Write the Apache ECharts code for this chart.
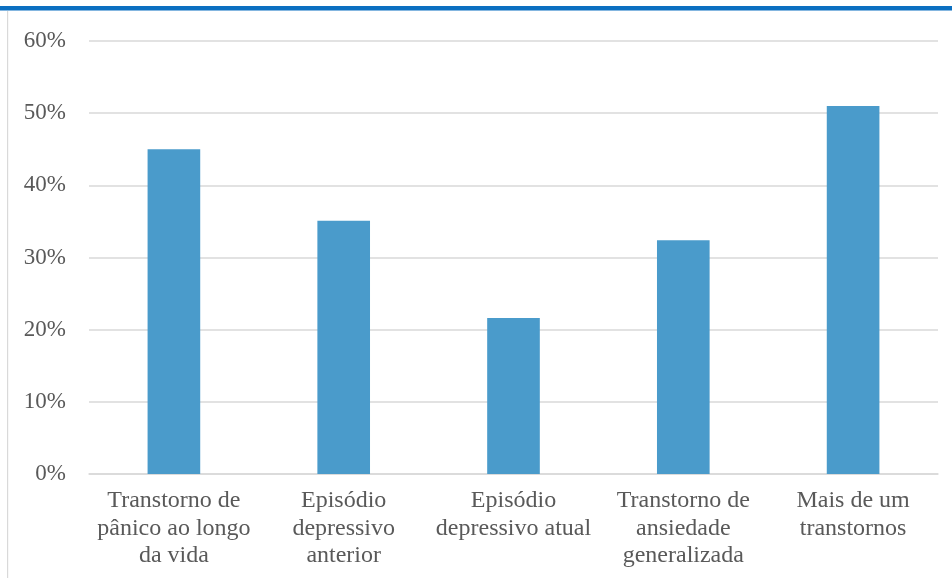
<!DOCTYPE html>
<html>
<head>
<meta charset="utf-8">
<script src="https://cdn.jsdelivr.net/npm/echarts@6/dist/echarts.min.js"></script>
<style>html,body{margin:0;padding:0;background:#fff;}#c{width:952px;height:581px;}</style>
</head>
<body>
<div id="c"></div>
<script>
var categories = ['Transtorno de\npânico ao longo\nda vida', 'Episódio\ndepressivo\nanterior', 'Episódio\ndepressivo atual', 'Transtorno de\nansiedade\ngeneralizada', 'Mais de um\ntranstornos'];
var values = [45.0, 35.1, 21.6, 32.4, 51.0];
var yTicks = [0, 10, 20, 30, 40, 50, 60];

var FONT = '"Liberation Serif", "DejaVu Serif", serif';
var chart = echarts.init(document.getElementById('c'));
chart.setOption({
  animation: false,
  backgroundColor: '#fff',
  graphic: [
    {type: 'rect', shape: {x: 0, y: 6, width: 952, height: 4.5}, style: {fill: '#0b6fc1'}},
    {type: 'rect', shape: {x: 7, y: 11, width: 1.2, height: 567}, style: {fill: '#d9d9d9'}}
  ],
  grid: {left: 89, right: 14, top: 41, bottom: 107, containLabel: false},
  xAxis: {
    type: 'category',
    data: categories,
    axisLine: {lineStyle: {color: '#d9d9d9', width: 1.5}},
    axisTick: {show: false},
    axisLabel: {
      interval: 0,
      margin: 13,
      color: '#595959',
      fontFamily: FONT,
      fontSize: 24,
      lineHeight: 27.5
    }
  },
  yAxis: {
    type: 'value',
    min: yTicks[0],
    max: yTicks[yTicks.length - 1],
    interval: 10,
    axisLine: {show: false},
    axisTick: {show: false},
    splitLine: {lineStyle: {color: '#d9d9d9', width: 1.5}},
    axisLabel: {
      margin: 23,
      color: '#595959',
      fontFamily: FONT,
      fontSize: 23,
      formatter: '{value}%'
    }
  },
  series: [{
    type: 'bar',
    data: values,
    barWidth: '31%',
    itemStyle: {color: '#4a9bcb'}
  }]
});
</script>
</body>
</html>
